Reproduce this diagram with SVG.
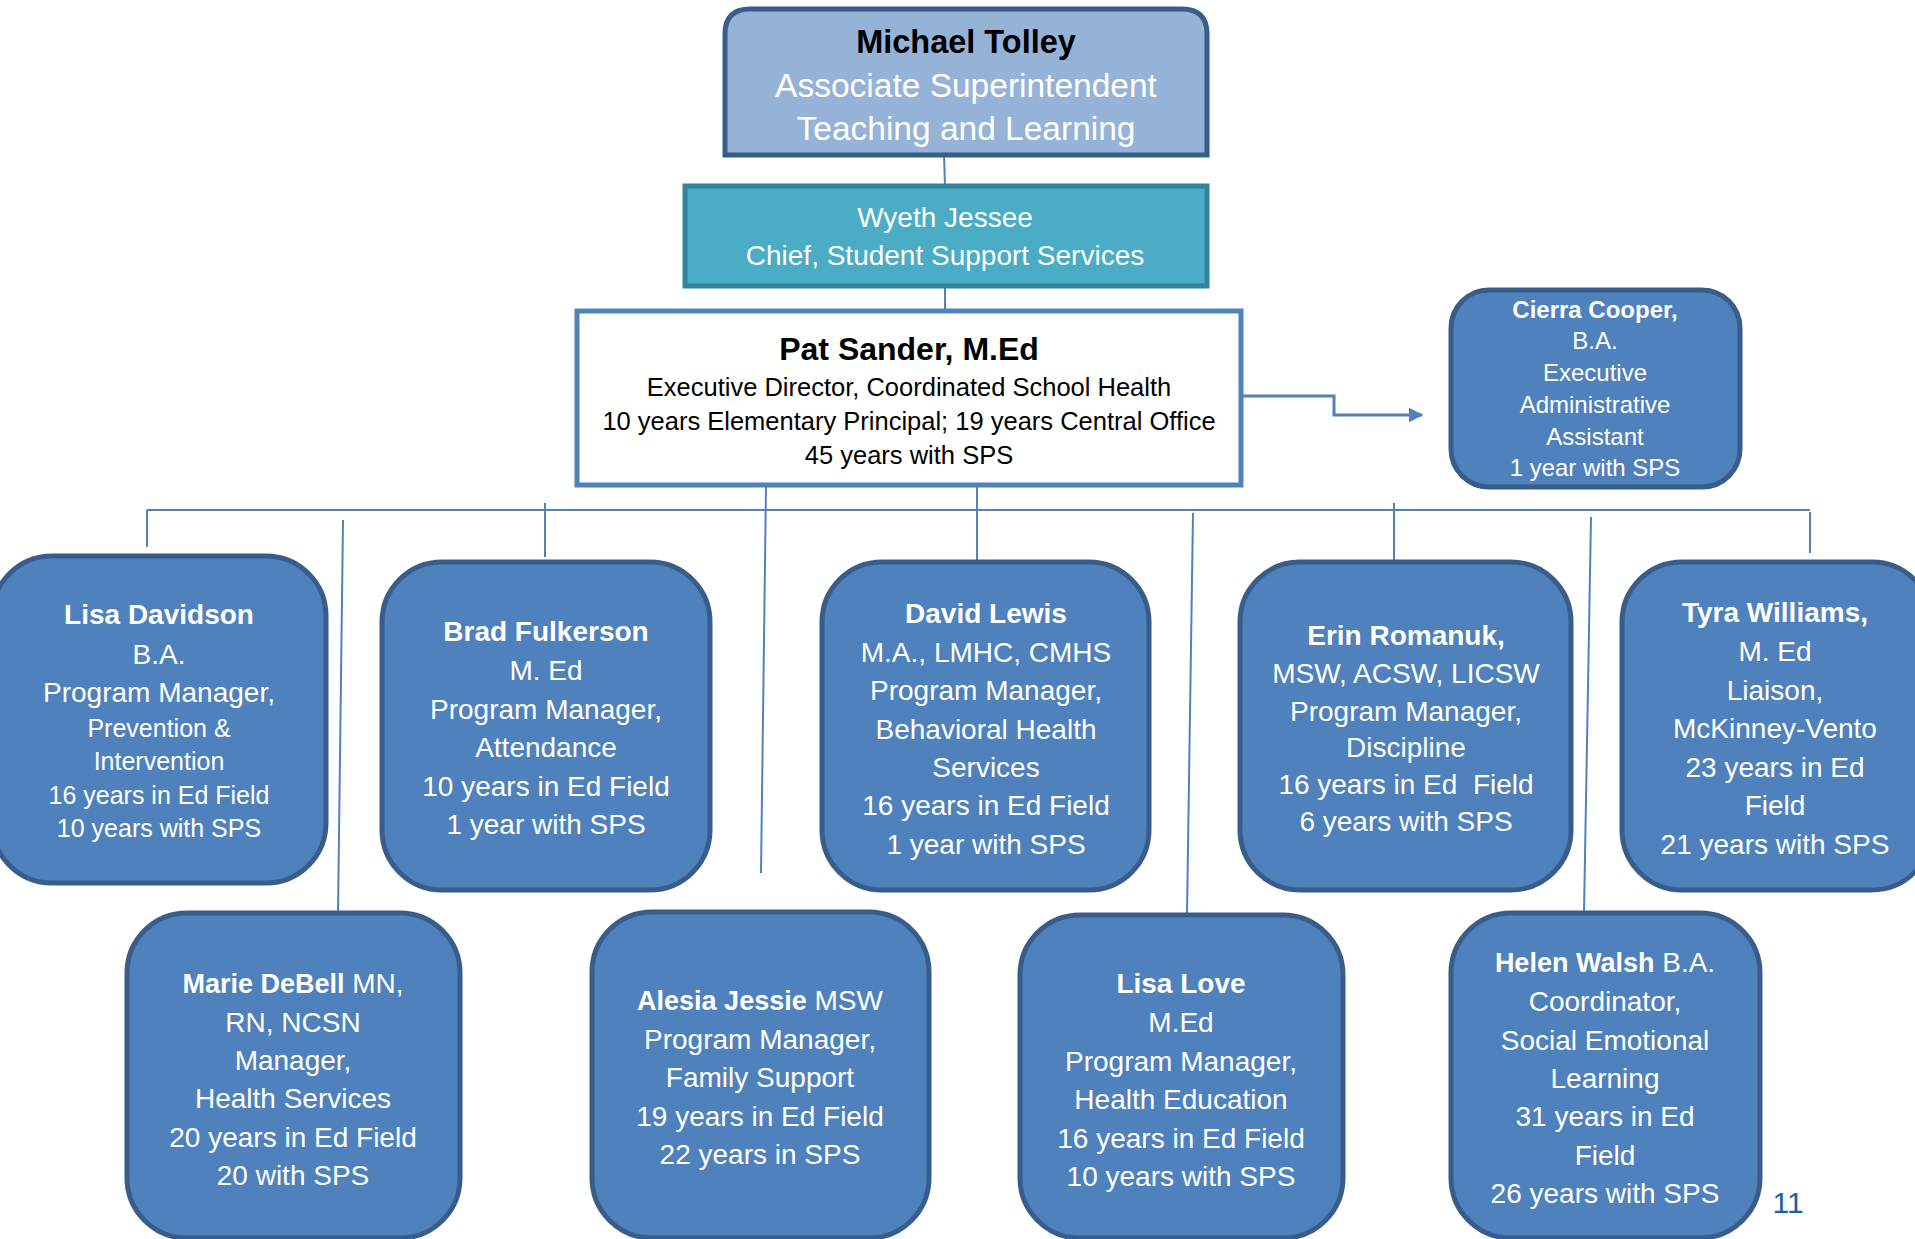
<svg xmlns="http://www.w3.org/2000/svg" width="1915" height="1239" viewBox="0 0 1915 1239">
<defs>
<style>
text{font-family:"Liberation Sans",Arial,sans-serif;text-anchor:middle}
.box{fill:#4F81BD;stroke:#385D8A;stroke-width:5}
.w{fill:#FFFFFF;font-size:28px}
.ws{fill:#FFFFFF;font-size:25px}
.wc{fill:#FFFFFF;font-size:24px}
.b{font-weight:bold}
.conn{stroke:#4F81BD;stroke-width:2;fill:none}
</style>
<marker id="arr" viewBox="0 0 10 10" refX="9" refY="5" markerWidth="5" markerHeight="5" markerUnits="strokeWidth" orient="auto">
<path d="M0,0 L10,5 L0,10 z" fill="#4F81BD"/>
</marker>
</defs>
<rect width="1915" height="1239" fill="#FFFFFF"/>

<g id="connectors">
<line class="conn" x1="944" y1="155" x2="945" y2="186"/>
<line class="conn" x1="945" y1="286" x2="945" y2="310"/>
<polyline class="conn" style="stroke-width:3" points="1241,396 1334,396 1334,415 1422,415" marker-end="url(#arr)"/>
<line class="conn" x1="147" y1="510" x2="1810" y2="510"/>
<line class="conn" x1="147" y1="510" x2="147" y2="547"/>
<line class="conn" x1="343" y1="520" x2="338" y2="914"/>
<line class="conn" x1="545" y1="503" x2="545" y2="557"/>
<line class="conn" x1="766" y1="485" x2="761" y2="873"/>
<line class="conn" x1="977" y1="485" x2="977" y2="562"/>
<line class="conn" x1="1193" y1="513" x2="1187" y2="914"/>
<line class="conn" x1="1394" y1="503" x2="1394" y2="562"/>
<line class="conn" x1="1591" y1="517" x2="1584" y2="913"/>
<line class="conn" x1="1810" y1="512" x2="1810" y2="553"/>
</g>

<g id="michael-tolley">
<path d="M725,155 L725,34 Q725,9 750,9 L1182,9 Q1207,9 1207,34 L1207,155 Z" fill="#95B3D7" stroke="#385D8A" stroke-width="5"/>
<text x="966" y="53" font-size="32.5" font-weight="bold" fill="#000000">Michael Tolley</text>
<text x="966" y="97" font-size="33.5" fill="#FFFFFF">Associate Superintendent</text>
<text x="966" y="140" font-size="33.5" fill="#FFFFFF">Teaching and Learning</text>
</g>

<g id="wyeth-jessee">
<rect x="685" y="186" width="522" height="100" fill="#4BACC6" stroke="#31849B" stroke-width="5"/>
<text x="945" y="227" font-size="28" fill="#FFFFFF">Wyeth Jessee</text>
<text x="945" y="265" font-size="28" fill="#FFFFFF">Chief, Student Support Services</text>
</g>

<g id="pat-sander">
<rect x="577" y="311" width="664" height="174" fill="#FFFFFF" stroke="#4F81BD" stroke-width="5"/>
<text x="909" y="360" font-size="32" font-weight="bold" fill="#000000">Pat Sander, M.Ed</text>
<text x="909" y="396" font-size="25.5" fill="#000000">Executive Director, Coordinated School Health</text>
<text x="909" y="430" font-size="25.5" fill="#000000">10 years Elementary Principal; 19 years Central Office</text>
<text x="909" y="464" font-size="25.5" fill="#000000">45 years with SPS</text>
</g>

<g id="cierra-cooper">
<rect class="box" x="1451" y="290" width="289" height="197" rx="38" ry="38"/>
<text class="wc b" x="1595" y="318" font-size="22.5">Cierra Cooper,</text>
<text class="wc" x="1595" y="349">B.A.</text>
<text class="wc" x="1595" y="381">Executive</text>
<text class="wc" x="1595" y="413">Administrative</text>
<text class="wc" x="1595" y="445">Assistant</text>
<text class="wc" x="1595" y="476">1 year with SPS</text>
</g>

<g id="lisa-davidson">
<rect class="box" x="-8" y="556" width="334" height="327" rx="60" ry="60"/>
<text class="w b" x="159" y="624" font-size="26.5">Lisa Davidson</text>
<text class="w" x="159" y="664">B.A.</text>
<text class="w" x="159" y="702">Program Manager,</text>
<text class="ws" x="159" y="737">Prevention &amp;</text>
<text class="ws" x="159" y="770">Intervention</text>
<text class="ws" x="159" y="804">16 years in Ed Field</text>
<text class="ws" x="159" y="837">10 years with SPS</text>
</g>

<g id="brad-fulkerson">
<rect class="box" x="382" y="562" width="328" height="328" rx="60" ry="60"/>
<text class="w b" x="546" y="641" font-size="27">Brad Fulkerson</text>
<text class="w" x="546" y="680">M. Ed</text>
<text class="w" x="546" y="719">Program Manager,</text>
<text class="w" x="546" y="757">Attendance</text>
<text class="w" x="546" y="796">10 years in Ed Field</text>
<text class="w" x="546" y="834">1 year with SPS</text>
</g>

<g id="david-lewis">
<rect class="box" x="822" y="562" width="327" height="328" rx="60" ry="60"/>
<text class="w b" x="986" y="623" font-size="27">David Lewis</text>
<text class="w" x="986" y="662">M.A., LMHC, CMHS</text>
<text class="w" x="986" y="700">Program Manager,</text>
<text class="w" x="986" y="739">Behavioral Health</text>
<text class="w" x="986" y="777">Services</text>
<text class="w" x="986" y="815">16 years in Ed Field</text>
<text class="w" x="986" y="854">1 year with SPS</text>
</g>

<g id="erin-romanuk">
<rect class="box" x="1240" y="562" width="331" height="328" rx="60" ry="60"/>
<text class="w b" x="1406" y="645" font-size="27">Erin Romanuk,</text>
<text class="w" x="1406" y="683">MSW, ACSW, LICSW</text>
<text class="w" x="1406" y="721">Program Manager,</text>
<text class="w" x="1406" y="757">Discipline</text>
<text class="w" x="1406" y="794" xml:space="preserve">16 years in Ed  Field</text>
<text class="w" x="1406" y="831">6 years with SPS</text>
</g>

<g id="tyra-williams">
<rect class="box" x="1622" y="562" width="310" height="328" rx="60" ry="60"/>
<text class="w b" x="1775" y="622" font-size="27">Tyra Williams,</text>
<text class="w" x="1775" y="661">M. Ed</text>
<text class="w" x="1775" y="700">Liaison,</text>
<text class="w" x="1775" y="738">McKinney-Vento</text>
<text class="w" x="1775" y="777">23 years in Ed</text>
<text class="w" x="1775" y="815">Field</text>
<text class="w" x="1775" y="854">21 years with SPS</text>
</g>

<g id="marie-debell">
<rect class="box" x="127" y="913" width="333" height="325" rx="60" ry="60"/>
<text class="w" x="293" y="993"><tspan class="b" font-size="27">Marie DeBell</tspan> MN,</text>
<text class="w" x="293" y="1032">RN, NCSN</text>
<text class="w" x="293" y="1070">Manager,</text>
<text class="w" x="293" y="1108">Health Services</text>
<text class="w" x="293" y="1147">20 years in Ed Field</text>
<text class="w" x="293" y="1185">20 with SPS</text>
</g>

<g id="alesia-jessie">
<rect class="box" x="592" y="912" width="337" height="326" rx="60" ry="60"/>
<text class="w" x="760" y="1010"><tspan class="b" font-size="27">Alesia Jessie</tspan> MSW</text>
<text class="w" x="760" y="1049">Program Manager,</text>
<text class="w" x="760" y="1087">Family Support</text>
<text class="w" x="760" y="1126">19 years in Ed Field</text>
<text class="w" x="760" y="1164">22 years in SPS</text>
</g>

<g id="lisa-love">
<rect class="box" x="1020" y="915" width="323" height="323" rx="60" ry="60"/>
<text class="w b" x="1181" y="993" font-size="27">Lisa Love</text>
<text class="w" x="1181" y="1032">M.Ed</text>
<text class="w" x="1181" y="1071">Program Manager,</text>
<text class="w" x="1181" y="1109">Health Education</text>
<text class="w" x="1181" y="1148">16 years in Ed Field</text>
<text class="w" x="1181" y="1186">10 years with SPS</text>
</g>

<g id="helen-walsh">
<rect class="box" x="1451" y="913" width="309" height="325" rx="60" ry="60"/>
<text class="w" x="1605" y="972"><tspan class="b" font-size="27">Helen Walsh</tspan> B.A.</text>
<text class="w" x="1605" y="1011">Coordinator,</text>
<text class="w" x="1605" y="1050">Social Emotional</text>
<text class="w" x="1605" y="1088">Learning</text>
<text class="w" x="1605" y="1126">31 years in Ed</text>
<text class="w" x="1605" y="1165">Field</text>
<text class="w" x="1605" y="1203">26 years with SPS</text>
</g>

<text x="1788" y="1213" font-size="30" fill="#1F5FA8">11</text>
</svg>
